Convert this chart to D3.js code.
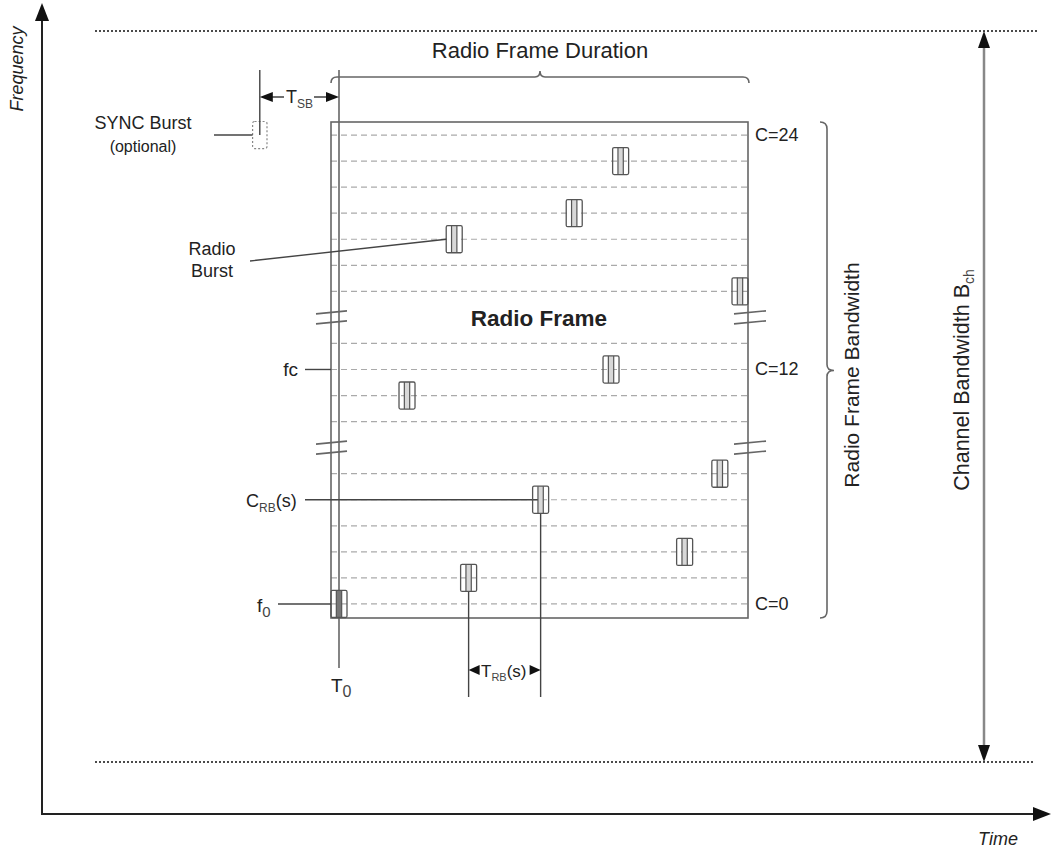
<!DOCTYPE html>
<html>
<head>
<meta charset="utf-8">
<script src="https://cdn.jsdelivr.net/npm/d3@7"></script>
<style>
  body { margin: 0; background: #fff; }
  text { font-family: "Liberation Sans", Arial, sans-serif; fill: #222; }
</style>
</head>
<body>
<svg id="chart" width="1052" height="850"></svg>
<script>
// ---- data ----
// channel rows that are drawn (row index counted from the bottom, C=0)
let channelRows = [0, 1, 2, 3, 4, 5, 7, 8, 9, 10, 12, 13, 14, 15, 16, 17, 18];
let breakRows = [6, 11]; // rows where the frame is cut
let channelLabelRows = [18, 9, 0];
let channelLabelTexts = ["C=24", "C=12", "C=0"];

// radio bursts: start time (in burst durations) and channel row
let burstStart = [0, 4.25, 7.2, 8.1, 12.6, 14.7, 17.0, 17.6, 21.6, 23.8, 25.06];
let burstRow   = [0, 8, 14, 1, 4, 15, 9, 17, 2, 5, 12];
let syncStart = -4.9; // optional SYNC burst
let syncRow = 18;
let frameEnd = 26.06;

// ---- setup ----
let svg = d3.select("#chart");
let x = d3.scaleLinear().domain([0, frameEnd]).range([331, 748]);
let y = d3.scaleLinear().domain([-0.54, 18.5]).range([618, 122]);
let burstW = 1;     // one burst duration
let burstH = 0.52;  // half height in rows
let lineCol = "#666";

function line(x1, y1, x2, y2, col, w, dash) {
    let l = svg.append("line")
        .attr("x1", x1).attr("y1", y1).attr("x2", x2).attr("y2", y2)
        .style("stroke", col || lineCol)
        .style("stroke-width", w || 1.5);
    if (dash) { l.style("stroke-dasharray", dash); }
    return l;
}

// filled triangle, tip at (tx,ty), pointing dir: "up","down","left","right"
function arrowHead(tx, ty, dir, len, half) {
    let pts;
    if (dir === "up") pts = [[tx, ty], [tx - half, ty + len], [tx + half, ty + len]];
    if (dir === "down") pts = [[tx, ty], [tx - half, ty - len], [tx + half, ty - len]];
    if (dir === "left") pts = [[tx, ty], [tx + len, ty - half], [tx + len, ty + half]];
    if (dir === "right") pts = [[tx, ty], [tx - len, ty - half], [tx - len, ty + half]];
    svg.append("path").attr("d", d3.line()(pts) + "Z").style("fill", "#111");
}

function label(tx, ty, str, size, anchor, extra) {
    let t = svg.append("text")
        .attr("x", tx).attr("y", ty)
        .attr("text-anchor", anchor || "start")
        .style("font-size", size + "px")
        .text(str);
    if (extra) { extra(t); }
    return t;
}

// text with subscript
function subLabel(tx, ty, main, sub, tail, size, subSize, anchor) {
    let t = svg.append("text")
        .attr("x", tx).attr("y", ty)
        .attr("text-anchor", anchor || "start")
        .style("font-size", size + "px");
    t.append("tspan").text(main);
    t.append("tspan").attr("dy", size * 0.25).style("font-size", subSize + "px")
        .style("fill", "#444").text(sub);
    if (tail) {
        t.append("tspan").attr("dy", -size * 0.25).text(tail);
    }
    return t;
}

// ---- axes ----
line(42, 815, 42, 18, "#222", 2);
arrowHead(42, 3, "up", 18, 7);
line(41, 814, 1036, 814, "#222", 2);
arrowHead(1051, 814, "right", 18, 7);
label(0, 0, "Frequency", 18, "middle", t => t
    .attr("transform", "translate(23,69) rotate(-90)")
    .style("font-style", "italic"));
label(998, 845, "Time", 18, "middle", t => t.style("font-style", "italic"));

// ---- channel bandwidth limits ----
line(95, 31, 1037, 31, "#111", 1.5, "2,2");
line(95, 762, 1033, 762, "#111", 1.5, "2,2");
line(984, 46, 984, 747, "#888", 2.5);
arrowHead(984, 31, "up", 17, 6);
arrowHead(984, 762, "down", 17, 6);
subLabel(0, 0, "Channel Bandwidth B", "ch", null, 21.5, 14, "middle")
    .attr("transform", "translate(969,380) rotate(-90)");

// ---- channel lines ----
svg.append("g").selectAll("line")
    .data(channelRows)
    .join("line")
    .attr("x1", x(0)).attr("x2", x(frameEnd))
    .attr("y1", d => y(d)).attr("y2", d => y(d))
    .style("stroke", "#aaa")
    .style("stroke-width", 1.2)
    .style("stroke-dasharray", "6,4");

// ---- frame ----
svg.append("rect")
    .attr("x", x(0)).attr("y", y(18.5))
    .attr("width", x(frameEnd) - x(0))
    .attr("height", y(-0.54) - y(18.5))
    .style("fill", "none")
    .style("stroke", lineCol)
    .style("stroke-width", 1.6);

// T0 line
line(x(0.5), 70, x(0.5), 668, lineCol, 1.6);

// breaks in the frame edges
breakRows.forEach(r => {
    let yc = y(r);
    [-5, 5].forEach(off => {
        line(x(0) - 15, yc + off + 1.5, x(0.5) + 8, yc + off - 1.5, lineCol, 1.6);
        line(x(frameEnd) - 14, yc + off + 1.5, x(frameEnd) + 18, yc + off - 1.5, lineCol, 1.6);
    });
});

// channel labels
channelLabelRows.forEach((r, i) => {
    label(x(frameEnd) + 7, y(r) + 6, channelLabelTexts[i], 18);
});

// ---- bursts ----
function drawBurst(t, r, dark) {
    let g = svg.append("g");
    let bx = x(t), bw = x(t + burstW) - x(t);
    let by = y(r + burstH), bh = y(r - burstH) - y(r + burstH);
    g.append("rect")
        .attr("x", bx + bw / 3).attr("y", by)
        .attr("width", bw / 3).attr("height", bh)
        .style("fill", dark ? "#777" : "#d8d8d8");
    g.append("rect")
        .attr("x", bx).attr("y", by)
        .attr("width", bw).attr("height", bh)
        .attr("rx", 1.5)
        .style("fill", "none")
        .style("stroke", "#555")
        .style("stroke-width", 1.3);
    [1 / 3, 2 / 3].forEach(f => {
        g.append("line")
            .attr("x1", bx + bw * f).attr("x2", bx + bw * f)
            .attr("y1", by).attr("y2", by + bh)
            .style("stroke", "#555").style("stroke-width", 1.2);
    });
}

// leader lines first so the bursts sit on top
let iRB = burstRow.indexOf(4);
let iTrb = burstRow.indexOf(1);
line(305, y(4), x(burstStart[iRB] + 0.5), y(4), "#444", 1.4);
line(x(burstStart[iTrb] + 0.5), y(1 - burstH), x(burstStart[iTrb] + 0.5), 697, "#444", 1.4);
line(x(burstStart[iRB] + 0.5), y(4 - burstH), x(burstStart[iRB] + 0.5), 697, "#444", 1.4);

burstStart.forEach((t, i) => drawBurst(t, burstRow[i], i === 0));

// SYNC burst (dotted)
svg.append("rect")
    .attr("x", x(syncStart)).attr("y", y(syncRow + burstH))
    .attr("width", x(syncStart + 0.9) - x(syncStart))
    .attr("height", y(syncRow - burstH) - y(syncRow + burstH))
    .attr("rx", 2)
    .style("fill", "none")
    .style("stroke", "#888")
    .style("stroke-width", 1.2)
    .style("stroke-dasharray", "2,2");
let syncMid = x(syncStart + 0.45);
line(syncMid, 70, syncMid, y(syncRow), "#444", 1.4);
line(214, y(syncRow), x(syncStart), y(syncRow), "#444", 1.4);
label(143, 129, "SYNC Burst", 18, "middle");
label(143, 152, "(optional)", 16, "middle");

// T_SB arrow
line(syncMid + 12, 97, 284, 97, "#333", 1.4);
line(314, 97, x(0.5) - 12, 97, "#333", 1.4);
arrowHead(syncMid, 97, "left", 13, 5);
arrowHead(x(0.5), 97, "right", 13, 5);
subLabel(286, 103, "T", "SB", null, 18, 12);

// Radio Frame Duration brace
let bxL = x(0), bxR = x(frameEnd) + 1, bxM = (bxL + bxR) / 2;
svg.append("path")
    .attr("d", `M${bxL},83 Q${bxL},77 ${bxL + 6},77 L${bxM - 5},77 Q${bxM},77 ${bxM},71
                Q${bxM},77 ${bxM + 5},77 L${bxR - 6},77 Q${bxR},77 ${bxR},83`)
    .style("fill", "none").style("stroke", lineCol).style("stroke-width", 1.6);
label(bxM, 58, "Radio Frame Duration", 22, "middle");

// Radio Frame Bandwidth brace
let yT = y(18.5), yB = y(-0.54), yM = y(9) + 1;
svg.append("path")
    .attr("d", `M820,${yT} Q827,${yT} 827,${yT + 7} L827,${yM - 6} Q827,${yM} 834,${yM}
                Q827,${yM} 827,${yM + 6} L827,${yB - 7} Q827,${yB} 820,${yB}`)
    .style("fill", "none").style("stroke", lineCol).style("stroke-width", 1.6);
label(0, 0, "Radio Frame Bandwidth", 21, "middle", t => t
    .attr("transform", "translate(859,375) rotate(-90)"));

// Radio Frame title
label(539, 326, "Radio Frame", 22.5, "middle", t => t.style("font-weight", "bold"));

// Radio Burst label
let iBurst = burstRow.indexOf(14);
line(250, 261, x(burstStart[iBurst]), y(14), "#444", 1.4);
label(212, 255, "Radio", 18, "middle");
label(212, 277, "Burst", 18, "middle");

// left labels
line(305, y(9), x(0), y(9), "#444", 1.4);
label(298, 376, "fc", 19, "end");
subLabel(246, 507, "C", "RB", "(s)", 18, 12);
line(278, y(0), x(0), y(0), "#444", 1.4);
subLabel(257, 612, "f", "0", null, 19, 15);

// T0
subLabel(331, 692, "T", "0", null, 19, 16);

// T_RB(s)
let xa = x(burstStart[iTrb] + 0.5), xb = x(burstStart[iRB] + 0.5);
arrowHead(xa, 670, "left", 11, 5);
arrowHead(xb, 670, "right", 11, 5);
subLabel(481, 677, "T", "RB", "(s)", 17, 11);
</script>
</body>
</html>
